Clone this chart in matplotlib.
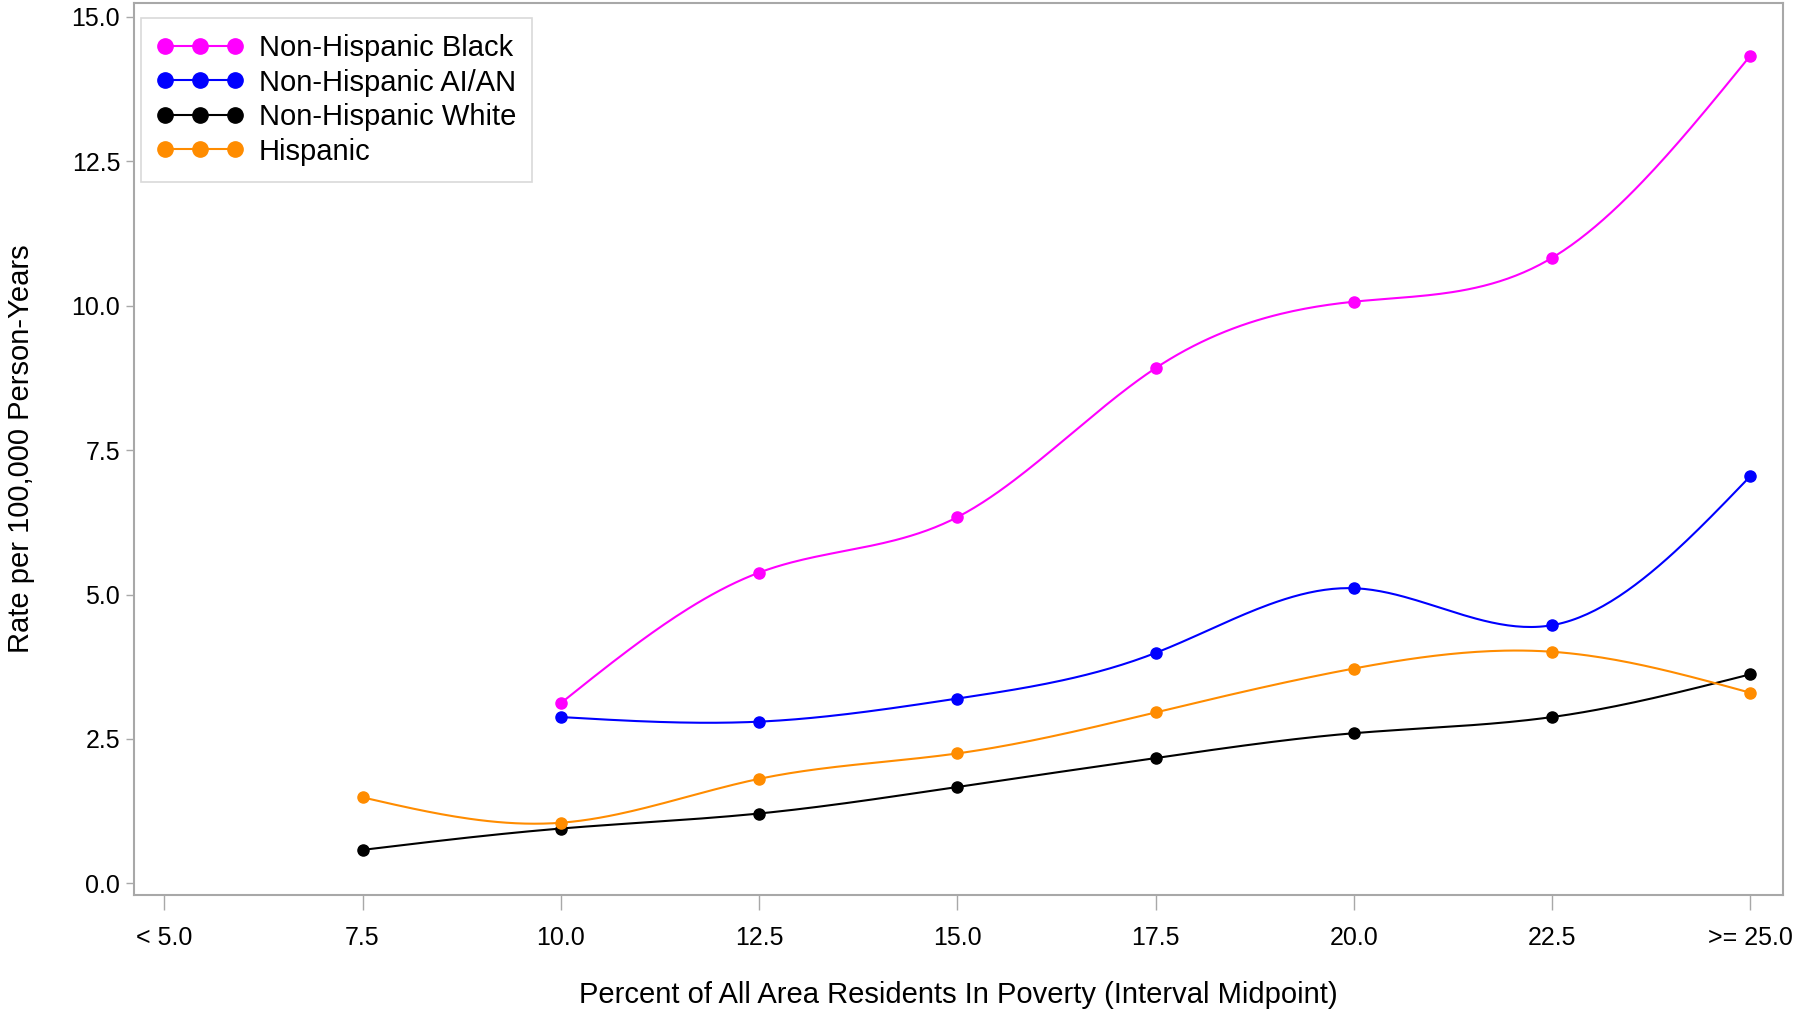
import matplotlib
matplotlib.use("Agg")
import matplotlib.pyplot as plt
import numpy as np

plt.rcParams['font.family'] = ['Liberation Sans', 'DejaVu Sans']

# x positions are interval midpoints; "< 5.0" and ">= 25.0" are the end classes
x_ticks = [5.0, 7.5, 10.0, 12.5, 15.0, 17.5, 20.0, 22.5, 25.0]
x_labels = ["< 5.0", "7.5", "10.0", "12.5", "15.0", "17.5", "20.0", "22.5", ">= 25.0"]

x_black = [10.0, 12.5, 15.0, 17.5, 20.0, 22.5, 25.0]
black = [3.12, 5.38, 6.34, 8.92, 10.07, 10.83, 14.33]

x_aian = [10.0, 12.5, 15.0, 17.5, 20.0, 22.5, 25.0]
aian = [2.88, 2.80, 3.20, 3.99, 5.11, 4.47, 7.05]

x_white = [7.5, 10.0, 12.5, 15.0, 17.5, 20.0, 22.5, 25.0]
white = [0.58, 0.95, 1.21, 1.67, 2.17, 2.60, 2.88, 3.62]

x_hisp = [7.5, 10.0, 12.5, 15.0, 17.5, 20.0, 22.5, 25.0]
hisp = [1.49, 1.05, 1.81, 2.25, 2.96, 3.72, 4.01, 3.30]


def smooth(xs, ys, n=300):
    # natural cubic spline through the points, like the SAS spline join
    xs = np.asarray(xs, float)
    ys = np.asarray(ys, float)
    k = len(xs)
    h = np.diff(xs)
    A = np.zeros((k, k))
    b = np.zeros(k)
    A[0, 0] = A[-1, -1] = 1
    for i in range(1, k - 1):
        A[i, i - 1] = h[i - 1]
        A[i, i] = 2 * (h[i - 1] + h[i])
        A[i, i + 1] = h[i]
        b[i] = 3 * ((ys[i + 1] - ys[i]) / h[i] - (ys[i] - ys[i - 1]) / h[i - 1])
    c = np.linalg.solve(A, b)
    xx = np.linspace(xs[0], xs[-1], n)
    idx = np.clip(np.searchsorted(xs, xx) - 1, 0, k - 2)
    dx = xx - xs[idx]
    bb = (ys[1:] - ys[:-1]) / h - h * (2 * c[:-1] + c[1:]) / 3
    dd = (c[1:] - c[:-1]) / (3 * h)
    yy = ys[idx] + bb[idx] * dx + c[idx] * dx ** 2 + dd[idx] * dx ** 3
    return xx, yy


series = [
    ("Non-Hispanic Black", x_black, black, "#FF00FF"),
    ("Non-Hispanic AI/AN", x_aian, aian, "#0000FF"),
    ("Non-Hispanic White", x_white, white, "#000000"),
    ("Hispanic", x_hisp, hisp, "#FF8C00"),
]

fig = plt.figure(figsize=(18, 10.17), dpi=100)
ax = fig.add_axes([0.0745, 0.12, 0.916, 0.877])

for name, xs, ys, col in series:
    xx, yy = smooth(xs, ys)
    ax.plot(xx, yy, color=col, lw=1.5)
    ax.plot(xs, ys, "o", color=col, ms=8, ls="none")
    ax.plot([], [], "-o", color=col, lw=1.5, ms=11, label=name)

ax.set_xlim(4.62, 25.41)
ax.set_ylim(-0.2, 15.24)
ax.set_xticks(x_ticks)
ax.set_xticklabels(x_labels)
ax.set_yticks([0, 2.5, 5, 7.5, 10, 12.5, 15])
ax.set_yticklabels(["0.0", "2.5", "5.0", "7.5", "10.0", "12.5", "15.0"])

for s in ax.spines.values():
    s.set_color("#a8a8a8")
    s.set_linewidth(1.5)
ax.tick_params(axis="x", length=11, width=1, color="#a8a8a8", labelsize=18, pad=11)
ax.tick_params(axis="y", length=6, width=1, color="#a8a8a8", labelsize=18, pad=4)

ax.set_xlabel("Percent of All Area Residents In Poverty (Interval Midpoint)", fontsize=21, labelpad=23)
ax.set_ylabel("Rate per 100,000 Person-Years", fontsize=21, labelpad=26)

leg = ax.legend(loc="upper left", bbox_to_anchor=(0.004, 0.983), borderaxespad=0,
                numpoints=3, fontsize=21, frameon=True, fancybox=False,
                handlelength=3.0, handletextpad=0.5, labelspacing=0.22, borderpad=0.55)
leg.get_frame().set_edgecolor("#d0d0d0")
leg.get_frame().set_linewidth(1.2)

fig.savefig("out.png", dpi=100)
